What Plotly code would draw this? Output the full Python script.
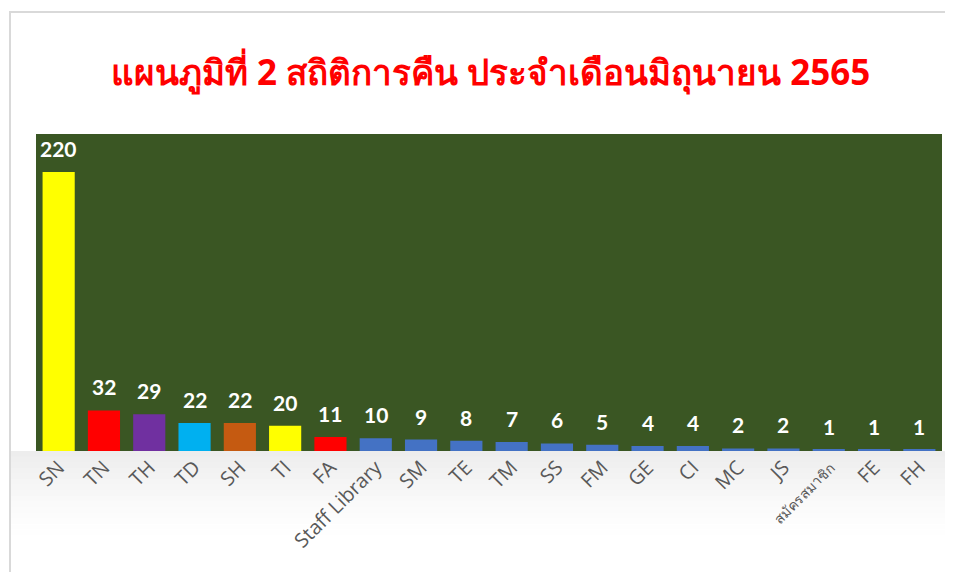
import plotly.graph_objects as go

categories = ["SN", "TN", "TH", "TD", "SH", "TI", "FA", "Staff Library", "SM", "TE",
              "TM", "SS", "FM", "GE", "CI", "MC", "JS", "สมัครสมาชิก", "FE", "FH"]
values = [220, 32, 29, 22, 22, 20, 11, 10, 9, 8, 7, 6, 5, 4, 4, 2, 2, 1, 1, 1]
bar_colors = ["#FFFF00", "#FF0000", "#7030A0", "#00B0F0", "#C55A11", "#FFFF00", "#FF0000"] + ["#4472C4"] * 13
title_text = "แผนภูมิที่ 2 สถิติการคืน ประจำเดือนมิถุนายน 2565"

tick_text = [('<span style="font-size:14px">' + c + '</span>') if c == "สมัครสมาชิก" else c
             for c in categories]

fig = go.Figure(go.Bar(
    x=categories, y=values,
    marker=dict(color=bar_colors, line=dict(width=0)),
    cliponaxis=False,
))

for c, v in zip(categories, values):
    fig.add_annotation(x=c, y=v, text="<b>" + str(v) + "</b>", showarrow=False,
                       yanchor="bottom", yshift=9,
                       font=dict(color="white", size=21, family="Lato, Open Sans, sans-serif"))

fig.update_layout(
    width=937, height=564,
    margin=dict(l=28, r=3, t=126, b=121),
    paper_bgcolor="white",
    plot_bgcolor="#3A5623",
    bargap=0.29,
    showlegend=False,
    title=dict(text="<b>" + title_text + "</b>", x=0.515, xanchor="center", y=0.885, yanchor="middle",
               font=dict(color="#FF0000", size=35, family="Noto Sans, sans-serif")),
    font=dict(family="Open Sans, sans-serif"),
)
fig.update_xaxes(tickangle=-45, tickfont=dict(size=20, color="#595959", family="Open Sans, sans-serif"),
                 tickmode="array", tickvals=categories, ticktext=tick_text,
                 showgrid=False, showline=False, ticks="", ticklabelstandoff=0,
                 range=[-0.5, len(categories) - 0.5])
fig.update_yaxes(range=[0, 250], showticklabels=False, showgrid=False, zeroline=False, showline=False)

# soft grey shading below the plot area (approximating the chart-area gradient)
n_bands = 16
band_h = 90 / 317 / n_bands
for i in range(n_bands):
    a = 0.07 * (1 - i / n_bands) ** 1.5
    fig.add_shape(type="rect", xref="paper", yref="paper", x0=-0.0287, x1=1.05,
                  y0=-(i + 1) * band_h, y1=-i * band_h,
                  line=dict(width=0), fillcolor="rgba(0,0,0,%.4f)" % a,
                  layer="below")

fig.add_shape(type="rect", xref="paper", yref="paper", x0=-0.0287, x1=1.05, y0=-0.45, y1=1.385,
              line=dict(color="#D9D9D9", width=2), fillcolor="rgba(0,0,0,0)", layer="below")

fig.write_html("out.html")
